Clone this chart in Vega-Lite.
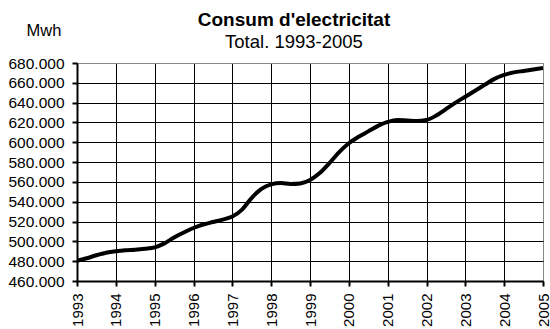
{
  "$schema": "https://vega.github.io/schema/vega-lite/v6.json",
  "width": 466,
  "height": 218,
  "autosize": {"type": "none"},
  "padding": {"left": 77, "top": 63, "right": 7, "bottom": 48},
  "background": "white",
  "config": {
    "font": "Liberation Sans",
    "view": {"stroke": "#888888", "strokeWidth": 1}
  },
  "title": {
    "text": "Consum d'electricitat",
    "subtitle": "Total. 1993-2005",
    "anchor": "middle",
    "frame": "group",
    "dx": -16,
    "offset": -29,
    "font": "Liberation Sans",
    "fontSize": 19,
    "fontWeight": "bold",
    "color": "#000000",
    "subtitleFont": "Liberation Sans",
    "subtitleFontSize": 18.5,
    "subtitleColor": "#000000",
    "subtitlePadding": 3
  },
  "data": {
    "values": [
      {"year": 1993.00, "mwh": 480500},
      {"year": 1993.25, "mwh": 483000},
      {"year": 1993.50, "mwh": 486000},
      {"year": 1993.75, "mwh": 488500},
      {"year": 1994.00, "mwh": 490000},
      {"year": 1994.25, "mwh": 491000},
      {"year": 1994.50, "mwh": 491500},
      {"year": 1994.75, "mwh": 492500},
      {"year": 1995.00, "mwh": 494000},
      {"year": 1995.25, "mwh": 498000},
      {"year": 1995.50, "mwh": 504000},
      {"year": 1995.75, "mwh": 509000},
      {"year": 1996.00, "mwh": 513500},
      {"year": 1996.25, "mwh": 517000},
      {"year": 1996.50, "mwh": 519500},
      {"year": 1996.75, "mwh": 522000},
      {"year": 1997.00, "mwh": 525000},
      {"year": 1997.25, "mwh": 532000},
      {"year": 1997.50, "mwh": 544000},
      {"year": 1997.75, "mwh": 553000},
      {"year": 1998.00, "mwh": 557500},
      {"year": 1998.25, "mwh": 558800},
      {"year": 1998.50, "mwh": 558000},
      {"year": 1998.75, "mwh": 558500},
      {"year": 1999.00, "mwh": 562000},
      {"year": 1999.25, "mwh": 569000},
      {"year": 1999.50, "mwh": 579000},
      {"year": 1999.75, "mwh": 590000},
      {"year": 2000.00, "mwh": 599000},
      {"year": 2000.25, "mwh": 605500},
      {"year": 2000.50, "mwh": 611000},
      {"year": 2000.75, "mwh": 616500},
      {"year": 2001.00, "mwh": 620500},
      {"year": 2001.25, "mwh": 622500},
      {"year": 2001.50, "mwh": 622000},
      {"year": 2001.75, "mwh": 621500},
      {"year": 2002.00, "mwh": 622500},
      {"year": 2002.25, "mwh": 627000},
      {"year": 2002.50, "mwh": 633500},
      {"year": 2002.75, "mwh": 640000},
      {"year": 2003.00, "mwh": 646000},
      {"year": 2003.25, "mwh": 652000},
      {"year": 2003.50, "mwh": 658000},
      {"year": 2003.75, "mwh": 664000},
      {"year": 2004.00, "mwh": 668000},
      {"year": 2004.25, "mwh": 670500},
      {"year": 2004.50, "mwh": 672000},
      {"year": 2004.75, "mwh": 673500},
      {"year": 2005.00, "mwh": 675000}
    ]
  },
  "mark": {"type": "line", "color": "#000000", "strokeWidth": 4, "interpolate": "monotone", "clip": true},
  "encoding": {
    "x": {
      "field": "year",
      "type": "quantitative",
      "scale": {"domain": [1993, 2005], "nice": false, "zero": false},
      "axis": {
        "title": null,
        "values": [1993, 1994, 1995, 1996, 1997, 1998, 1999, 2000, 2001, 2002, 2003, 2004, 2005],
        "format": "d",
        "labelAngle": -90,
        "labelAlign": "right",
        "labelBaseline": "middle",
        "labelFontSize": 15,
        "labelColor": "#000000",
        "labelPadding": 7,
        "labelOverlap": false,
        "labelFlush": false,
        "tickSize": 5,
        "tickColor": "#000000",
        "tickWidth": 2,
        "domainColor": "#000000",
        "domainWidth": 2,
        "grid": true,
        "gridColor": {"condition": {"test": "datum.value === 2005", "value": "#888888"}, "value": "#000000"},
        "gridWidth": 1,
        "gridOpacity": 1
      }
    },
    "y": {
      "field": "mwh",
      "type": "quantitative",
      "scale": {"domain": [460000, 680000], "nice": false, "zero": false},
      "axis": {
        "title": "Mwh",
        "titleAngle": 0,
        "titleX": -51,
        "titleY": -28,
        "titleAlign": "left",
        "titleBaseline": "alphabetic",
        "titleFontSize": 16.5,
        "titleFontWeight": "normal",
        "titleColor": "#000000",
        "values": [460000, 480000, 500000, 520000, 540000, 560000, 580000, 600000, 620000, 640000, 660000, 680000],
        "labelExpr": "replace(format(datum.value, ',.0f'), ',', '.')",
        "labelFontSize": 15.5,
        "labelColor": "#000000",
        "labelPadding": 8,
        "labelOverlap": false,
        "labelFlush": false,
        "tickSize": 5,
        "tickColor": "#000000",
        "tickWidth": 2,
        "domainColor": "#000000",
        "domainWidth": 2,
        "grid": true,
        "gridColor": {"condition": {"test": "datum.value === 680000", "value": "#888888"}, "value": "#000000"},
        "gridWidth": 1,
        "gridOpacity": 1
      }
    }
  }
}
